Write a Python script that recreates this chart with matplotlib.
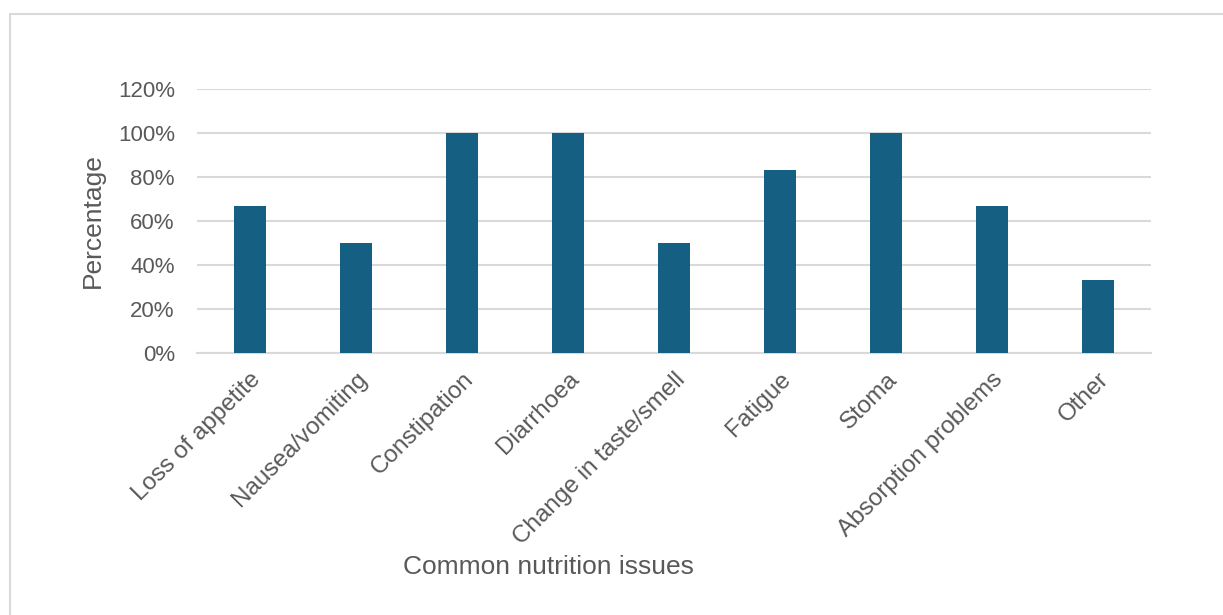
import matplotlib.pyplot as plt
from matplotlib.patches import Rectangle
from matplotlib.ticker import PercentFormatter

issues = ["Loss of appetite", "Nausea/vomiting", "Constipation", "Diarrhoea",
          "Change in taste/smell", "Fatigue", "Stoma", "Absorption problems", "Other"]
percent = [66.7, 50.0, 100.0, 100.0, 50.0, 83.3, 100.0, 66.7, 33.3]

txt = "#595959"
plt.rcParams["font.family"] = ["Liberation Sans", "DejaVu Sans"]

fig = plt.figure(figsize=(12.23, 6.15), dpi=100)
# chart frame
fig.patches.append(Rectangle((10 / 1223, -0.1), 1.2, 1 - 14 / 615 + 0.1,
                             transform=fig.transFigure, fill=False,
                             edgecolor="#d9d9d9", linewidth=1.5))

ax = fig.add_axes([197 / 1223, 1 - 353 / 615, (1151 - 197) / 1223, (353 - 89) / 615])
x = range(len(issues))
ax.bar(x, percent, width=0.31, color="#156082", zorder=3)

ax.set_xlim(-0.5, len(issues) - 0.5)
ax.set_ylim(0, 120)
ax.set_yticks(range(0, 121, 20))
ax.yaxis.set_major_formatter(PercentFormatter(decimals=0))
ax.grid(axis="y", color="#d9d9d9", linewidth=1.5, zorder=0)
ax.set_xticks(list(x))
ax.set_xticklabels(issues, rotation=45, ha="right", rotation_mode="anchor")
for s in ["top", "right", "left"]:
    ax.spines[s].set_visible(False)
ax.spines["bottom"].set_color("#d9d9d9")
ax.spines["bottom"].set_linewidth(1.5)
ax.tick_params(axis="both", length=0, colors=txt)
ax.tick_params(axis="y", pad=16, labelsize=16)
ax.tick_params(axis="x", pad=11, labelsize=17.5)

fig.text(93 / 1223, 1 - 221 / 615, "Percentage", rotation=90, ha="center", va="center",
         fontsize=19, color=txt)
fig.text(548 / 1223, 1 - 567 / 615, "Common nutrition issues", ha="center", va="center",
         fontsize=19, color=txt)

fig.savefig("out.png", dpi=100)
